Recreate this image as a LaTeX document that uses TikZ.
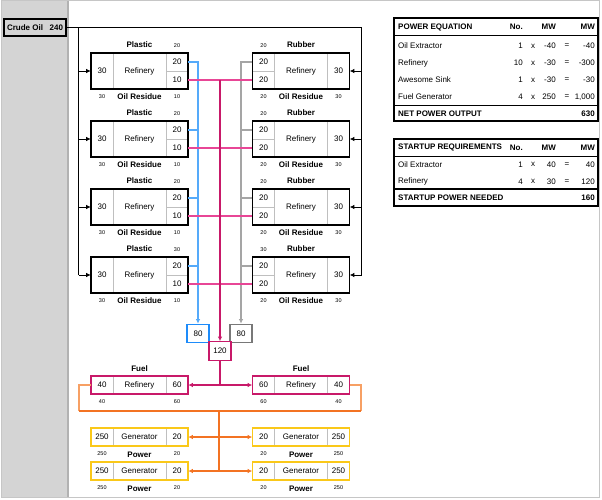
\documentclass[tikz,border=0pt]{standalone}
\usepackage{fontspec}
\setmainfont{Liberation Sans}
\usetikzlibrary{arrows.meta}
\definecolor{panelgrey}{RGB}{212,212,212}
\definecolor{plasticblue}{RGB}{85,170,250}
\definecolor{plasticbox}{RGB}{30,140,250}
\definecolor{rubbergrey}{RGB}{165,165,165}
\definecolor{rubberbox}{RGB}{120,120,120}
\definecolor{residuepink}{RGB}{232,70,150}
\definecolor{residuered}{RGB}{200,25,105}
\definecolor{fuelorange}{RGB}{243,115,35}
\definecolor{fuellightorange}{RGB}{247,160,100}
\definecolor{genyellow}{RGB}{250,200,25}
\tikzset{
  refinery/.style={draw=black, line width=1.2pt, minimum width=97pt, minimum height=36pt, inner sep=0pt, font=\fontsize{8}{9}\selectfont},
  fuelbox/.style={refinery, draw=residuered, minimum height=18pt},
  genbox/.style={refinery, draw=genyellow, minimum height=18pt},
  cell/.style={draw=gray!50, line width=0.6pt, minimum width=22pt, inner sep=0pt, font=\fontsize{8}{9}\selectfont},
  tallcell/.style={cell, minimum height=36pt},
  halfcell/.style={cell, minimum height=18pt},
  smallcell/.style={cell, minimum height=18pt},
  product/.style={inner sep=0pt, font=\bfseries\fontsize{8}{9}\selectfont},
  flowval/.style={inner sep=0pt, font=\fontsize{5.5}{6}\selectfont},
  crude/.style={draw=black, line width=1.3pt, fill=panelgrey, minimum height=17pt, inner sep=3pt, font=\bfseries\fontsize{8}{9}\selectfont},
  sumbox/.style={line width=1.2pt, fill=white, minimum width=22pt, minimum height=18.5pt, inner sep=0pt, font=\fontsize{8}{9}\selectfont},
  crudeline/.style={draw=black, line width=0.8pt},
  plasticline/.style={draw=plasticblue, line width=1.6pt},
  rubberline/.style={draw=rubbergrey, line width=1.6pt},
  residueline/.style={draw=residuepink, line width=1.6pt},
  residuedark/.style={draw=residuered, line width=1.2pt},
  fuelline/.style={draw=fuelorange, line width=1.4pt},
  fuellight/.style={draw=fuellightorange, line width=1.4pt},
  tablebox/.style={draw=black, line width=1.2pt, minimum width=204pt, inner sep=0pt},
  tablehead/.style={inner sep=0pt, font=\bfseries\fontsize{8}{9}\selectfont},
  tabletext/.style={inner sep=0pt, font=\fontsize{8}{9}\selectfont},
  >={Latex[length=4.5pt,width=4.5pt]}
}

\begin{document}
\begin{tikzpicture}[x=1pt, y=-1pt]
  \useasboundingbox (0,0) rectangle (602,500);
  % frame and side panel
  \fill[panelgrey] (1,1) rectangle (67.5,497);
  \draw[gray!60, line width=1.5pt] (68,1) -- (68,497);
  \draw[gray!45, line width=1pt] (1,1) rectangle (599.5,497);

  \node[crude] (crude) at (35,27.5) {\makebox[56pt]{Crude Oil\hfill 240}};
  \coordinate (feedL) at (78.5,27.5);
  \coordinate (feedR) at (361.5,27.5);

  % plastic refineries (left)
  \node[tallcell] (pl1in) at (102,71) {30};
  \node[halfcell] (pl1pl) at (177,62) {20};
  \node[halfcell] (pl1res) at (177,80) {10};
  \node[refinery] (pl1) at (139.5,71) {Refinery};
  \node[product] (pl1name) at (139.5,45) {Plastic};
  \node[flowval] (pl1plval) at (177,45.5) {20};
  \node[flowval] (pl1inval) at (102,96.5) {30};
  \node[product] (pl1resname) at (139.5,97) {Oil Residue};
  \node[flowval] (pl1resval) at (177,96.5) {10};

  \node[tallcell] (pl2in) at (102,139) {30};
  \node[halfcell] (pl2pl) at (177,130) {20};
  \node[halfcell] (pl2res) at (177,148) {10};
  \node[refinery] (pl2) at (139.5,139) {Refinery};
  \node[product] (pl2name) at (139.5,113) {Plastic};
  \node[flowval] (pl2plval) at (177,113.5) {20};
  \node[flowval] (pl2inval) at (102,164.5) {30};
  \node[product] (pl2resname) at (139.5,165) {Oil Residue};
  \node[flowval] (pl2resval) at (177,164.5) {10};

  \node[tallcell] (pl3in) at (102,207) {30};
  \node[halfcell] (pl3pl) at (177,198) {20};
  \node[halfcell] (pl3res) at (177,216) {10};
  \node[refinery] (pl3) at (139.5,207) {Refinery};
  \node[product] (pl3name) at (139.5,181) {Plastic};
  \node[flowval] (pl3plval) at (177,181.5) {20};
  \node[flowval] (pl3inval) at (102,232.5) {30};
  \node[product] (pl3resname) at (139.5,233) {Oil Residue};
  \node[flowval] (pl3resval) at (177,232.5) {10};

  \node[tallcell] (pl4in) at (102,275) {30};
  \node[halfcell] (pl4pl) at (177,266) {20};
  \node[halfcell] (pl4res) at (177,284) {10};
  \node[refinery] (pl4) at (139.5,275) {Refinery};
  \node[product] (pl4name) at (139.5,249) {Plastic};
  \node[flowval] (pl4plval) at (177,249.5) {30};
  \node[flowval] (pl4inval) at (102,300.5) {30};
  \node[product] (pl4resname) at (139.5,301) {Oil Residue};
  \node[flowval] (pl4resval) at (177,300.5) {10};

  % rubber refineries (right)
  \node[halfcell] (rb1rb) at (263.5,62) {20};
  \node[halfcell] (rb1res) at (263.5,80) {20};
  \node[tallcell] (rb1in) at (338.5,71) {30};
  \node[refinery] (rb1) at (301,71) {Refinery};
  \node[product] (rb1name) at (301,45) {Rubber};
  \node[flowval] (rb1rbval) at (263.5,45.5) {20};
  \node[flowval] (rb1resval) at (263.5,96.5) {20};
  \node[product] (rb1resname) at (301,97) {Oil Residue};
  \node[flowval] (rb1inval) at (338.5,96.5) {30};

  \node[halfcell] (rb2rb) at (263.5,130) {20};
  \node[halfcell] (rb2res) at (263.5,148) {20};
  \node[tallcell] (rb2in) at (338.5,139) {30};
  \node[refinery] (rb2) at (301,139) {Refinery};
  \node[product] (rb2name) at (301,113) {Rubber};
  \node[flowval] (rb2rbval) at (263.5,113.5) {20};
  \node[flowval] (rb2resval) at (263.5,164.5) {20};
  \node[product] (rb2resname) at (301,165) {Oil Residue};
  \node[flowval] (rb2inval) at (338.5,164.5) {30};

  \node[halfcell] (rb3rb) at (263.5,198) {20};
  \node[halfcell] (rb3res) at (263.5,216) {20};
  \node[tallcell] (rb3in) at (338.5,207) {30};
  \node[refinery] (rb3) at (301,207) {Refinery};
  \node[product] (rb3name) at (301,181) {Rubber};
  \node[flowval] (rb3rbval) at (263.5,181.5) {20};
  \node[flowval] (rb3resval) at (263.5,232.5) {20};
  \node[product] (rb3resname) at (301,233) {Oil Residue};
  \node[flowval] (rb3inval) at (338.5,232.5) {30};

  \node[halfcell] (rb4rb) at (263.5,266) {20};
  \node[halfcell] (rb4res) at (263.5,284) {20};
  \node[tallcell] (rb4in) at (338.5,275) {30};
  \node[refinery] (rb4) at (301,275) {Refinery};
  \node[product] (rb4name) at (301,249) {Rubber};
  \node[flowval] (rb4rbval) at (263.5,249.5) {30};
  \node[flowval] (rb4resval) at (263.5,300.5) {20};
  \node[product] (rb4resname) at (301,301) {Oil Residue};
  \node[flowval] (rb4inval) at (338.5,300.5) {30};

  % totals
  \node[sumbox, draw=plasticbox] (plasticsum) at (198,333.5) {80};
  \node[sumbox, draw=rubberbox] (rubbersum) at (241,333.5) {80};
  \node[sumbox, draw=residuered] (residuesum) at (220,351) {120};

  % crude oil feed
  \draw[crudeline] (crude.east) -- (feedR) -- (feedR |- rb4in.east);
  \draw[crudeline] (feedL) -- (feedL |- pl4in.west);
  \draw[crudeline, ->] (feedL |- pl1in.west) -- (pl1in.west);
  \draw[crudeline, ->] (feedL |- pl2in.west) -- (pl2in.west);
  \draw[crudeline, ->] (feedL |- pl3in.west) -- (pl3in.west);
  \draw[crudeline, ->] (feedL |- pl4in.west) -- (pl4in.west);
  \draw[crudeline, ->] (feedR |- rb1in.east) -- (rb1in.east);
  \draw[crudeline, ->] (feedR |- rb2in.east) -- (rb2in.east);
  \draw[crudeline, ->] (feedR |- rb3in.east) -- (rb3in.east);
  \draw[crudeline, ->] (feedR |- rb4in.east) -- (rb4in.east);

  % plastic and rubber
  \draw[plasticline, ->] (pl1pl.east) -| (plasticsum.north);
  \draw[plasticline] (pl2pl.east) -- (pl2pl.east -| plasticsum.north);
  \draw[plasticline] (pl3pl.east) -- (pl3pl.east -| plasticsum.north);
  \draw[plasticline] (pl4pl.east) -- (pl4pl.east -| plasticsum.north);
  \draw[rubberline, ->] (rb1rb.west) -| (rubbersum.north);
  \draw[rubberline] (rb2rb.west) -- (rb2rb.west -| rubbersum.north);
  \draw[rubberline] (rb3rb.west) -- (rb3rb.west -| rubbersum.north);
  \draw[rubberline] (rb4rb.west) -- (rb4rb.west -| rubbersum.north);

  % oil residue
  \draw[residueline] (pl1res.east) -- (rb1res.west);
  \draw[residueline] (pl2res.east) -- (rb2res.west);
  \draw[residueline] (pl3res.east) -- (rb3res.west);
  \draw[residueline] (pl4res.east) -- (rb4res.west);
  \draw[residuedark, ->] (pl1res.east -| residuesum.north) -- (residuesum.north);

  % fuel refineries
  \node[smallcell] (fu1out) at (102,385) {40};
  \node[smallcell] (fu1in) at (177,385) {60};
  \node[fuelbox] (fu1) at (139.5,385) {Refinery};
  \node[product] (fu1name) at (139.5,369) {Fuel};
  \node[flowval] (fu1outval) at (102,402) {40};
  \node[flowval] (fu1inval) at (177,402) {60};

  \node[smallcell] (fu2in) at (263.5,385) {60};
  \node[smallcell] (fu2out) at (338.5,385) {40};
  \node[fuelbox] (fu2) at (301,385) {Refinery};
  \node[product] (fu2name) at (301,369) {Fuel};
  \node[flowval] (fu2inval) at (263.5,402) {60};
  \node[flowval] (fu2outval) at (338.5,402) {40};

  \coordinate (fuelsplit) at (220,385);
  \draw[residuedark] (residuesum.south) -- (fuelsplit);
  \draw[residuedark, ->] (fuelsplit) -- (fu1in.east);
  \draw[residuedark, ->] (fuelsplit) -- (fu2in.west);

  % generators
  \node[smallcell] (gl1pw) at (102,437) {250};
  \node[smallcell] (gl1fu) at (177,437) {20};
  \node[genbox] (gl1) at (139.5,437) {Generator};
  \node[flowval] (gl1pwval) at (102,453.5) {250};
  \node[product] (gl1name) at (139.5,454.5) {Power};
  \node[flowval] (gl1fuval) at (177,453.5) {20};

  \node[smallcell] (gl2pw) at (102,471) {250};
  \node[smallcell] (gl2fu) at (177,471) {20};
  \node[genbox] (gl2) at (139.5,471) {Generator};
  \node[flowval] (gl2pwval) at (102,487.5) {250};
  \node[product] (gl2name) at (139.5,488.5) {Power};
  \node[flowval] (gl2fuval) at (177,487.5) {20};

  \node[smallcell] (gr1fu) at (263.5,437) {20};
  \node[smallcell] (gr1pw) at (338.5,437) {250};
  \node[genbox] (gr1) at (301,437) {Generator};
  \node[flowval] (gr1fuval) at (263.5,453.5) {20};
  \node[product] (gr1name) at (301,454.5) {Power};
  \node[flowval] (gr1pwval) at (338.5,453.5) {250};

  \node[smallcell] (gr2fu) at (263.5,471) {20};
  \node[smallcell] (gr2pw) at (338.5,471) {250};
  \node[genbox] (gr2) at (301,471) {Generator};
  \node[flowval] (gr2fuval) at (263.5,487.5) {20};
  \node[product] (gr2name) at (301,488.5) {Power};
  \node[flowval] (gr2pwval) at (338.5,487.5) {250};

  \coordinate (fuelL) at (79,411);
  \coordinate (fuelR) at (361,411);
  \coordinate (genbus) at (219,411);
  \draw[fuellight] (fu1out.west) -| (fuelL);
  \draw[fuellight] (fu2out.east) -| (fuelR);
  \draw[fuelline] (fuelL) -- (fuelR);
  \draw[fuelline] (genbus) -- (genbus |- gl2fu.east);
  \draw[fuelline, ->] (genbus |- gl1fu.east) -- (gl1fu.east);
  \draw[fuelline, ->] (genbus |- gl2fu.east) -- (gl2fu.east);
  \draw[fuelline, ->] (genbus |- gr1fu.west) -- (gr1fu.west);
  \draw[fuelline, ->] (genbus |- gr2fu.west) -- (gr2fu.west);

  % power equation table
  \node[tablebox, minimum height=103pt] (powtab) at (496,69.5) {};
  \draw[black, line width=0.6pt] (394,35) -- (598,35);
  \draw[black, line width=1.2pt] (394,105.5) -- (598,105.5);
  \node[tablehead, anchor=west] (pehead) at (398,27) {POWER EQUATION};
  \node[tablehead, anchor=east] (peno) at (523,27) {No.};
  \node[tablehead, anchor=east] (pemw) at (556,27) {MW};
  \node[tablehead, anchor=east] (petot) at (595,27) {MW};
  \node[tabletext, anchor=west] (pe1) at (398,46) {Oil Extractor};
  \node[tabletext, anchor=east] (pe1no) at (523,46) {1};
  \node[tabletext] (pe1x) at (533,46) {x};
  \node[tabletext, anchor=east] (pe1mw) at (556,46) {-40};
  \node[tabletext] (pe1eq) at (567,46) {=};
  \node[tabletext, anchor=east] (pe1tot) at (595,46) {-40};
  \node[tabletext, anchor=west] (pe2) at (398,63) {Refinery};
  \node[tabletext, anchor=east] (pe2no) at (523,63) {10};
  \node[tabletext] (pe2x) at (533,63) {x};
  \node[tabletext, anchor=east] (pe2mw) at (556,63) {-30};
  \node[tabletext] (pe2eq) at (567,63) {=};
  \node[tabletext, anchor=east] (pe2tot) at (595,63) {-300};
  \node[tabletext, anchor=west] (pe3) at (398,80) {Awesome Sink};
  \node[tabletext, anchor=east] (pe3no) at (523,80) {1};
  \node[tabletext] (pe3x) at (533,80) {x};
  \node[tabletext, anchor=east] (pe3mw) at (556,80) {-30};
  \node[tabletext] (pe3eq) at (567,80) {=};
  \node[tabletext, anchor=east] (pe3tot) at (595,80) {-30};
  \node[tabletext, anchor=west] (pe4) at (398,97) {Fuel Generator};
  \node[tabletext, anchor=east] (pe4no) at (523,97) {4};
  \node[tabletext] (pe4x) at (533,97) {x};
  \node[tabletext, anchor=east] (pe4mw) at (556,97) {250};
  \node[tabletext] (pe4eq) at (567,97) {=};
  \node[tabletext, anchor=east] (pe4tot) at (595,97) {1,000};
  \node[tablehead, anchor=west] (penet) at (398,113.5) {NET POWER OUTPUT};
  \node[tablehead, anchor=east] (penettot) at (595,113.5) {630};

  % startup table
  \node[tablebox, minimum height=67pt] (suptab) at (496,172.5) {};
  \draw[black, line width=0.6pt] (394,156) -- (598,156);
  \draw[black, line width=1.2pt] (394,189) -- (598,189);
  \node[tablehead, anchor=west] (suhead) at (398,147.5) {STARTUP REQUIREMENTS};
  \node[tablehead, anchor=east] (suno) at (523,147.5) {No.};
  \node[tablehead, anchor=east] (sumw) at (556,147.5) {MW};
  \node[tablehead, anchor=east] (sutot) at (595,147.5) {MW};
  \node[tabletext, anchor=west] (su1) at (398,164.5) {Oil Extractor};
  \node[tabletext, anchor=east] (su1no) at (523,164.5) {1};
  \node[tabletext] (su1x) at (533,164.5) {x};
  \node[tabletext, anchor=east] (su1mw) at (556,164.5) {40};
  \node[tabletext] (su1eq) at (567,164.5) {=};
  \node[tabletext, anchor=east] (su1tot) at (595,164.5) {40};
  \node[tabletext, anchor=west] (su2) at (398,181.5) {Refinery};
  \node[tabletext, anchor=east] (su2no) at (523,181.5) {4};
  \node[tabletext] (su2x) at (533,181.5) {x};
  \node[tabletext, anchor=east] (su2mw) at (556,181.5) {30};
  \node[tabletext] (su2eq) at (567,181.5) {=};
  \node[tabletext, anchor=east] (su2tot) at (595,181.5) {120};
  \node[tablehead, anchor=west] (suneed) at (398,198) {STARTUP POWER NEEDED};
  \node[tablehead, anchor=east] (suneedtot) at (595,198) {160};
\end{tikzpicture}
\end{document}
